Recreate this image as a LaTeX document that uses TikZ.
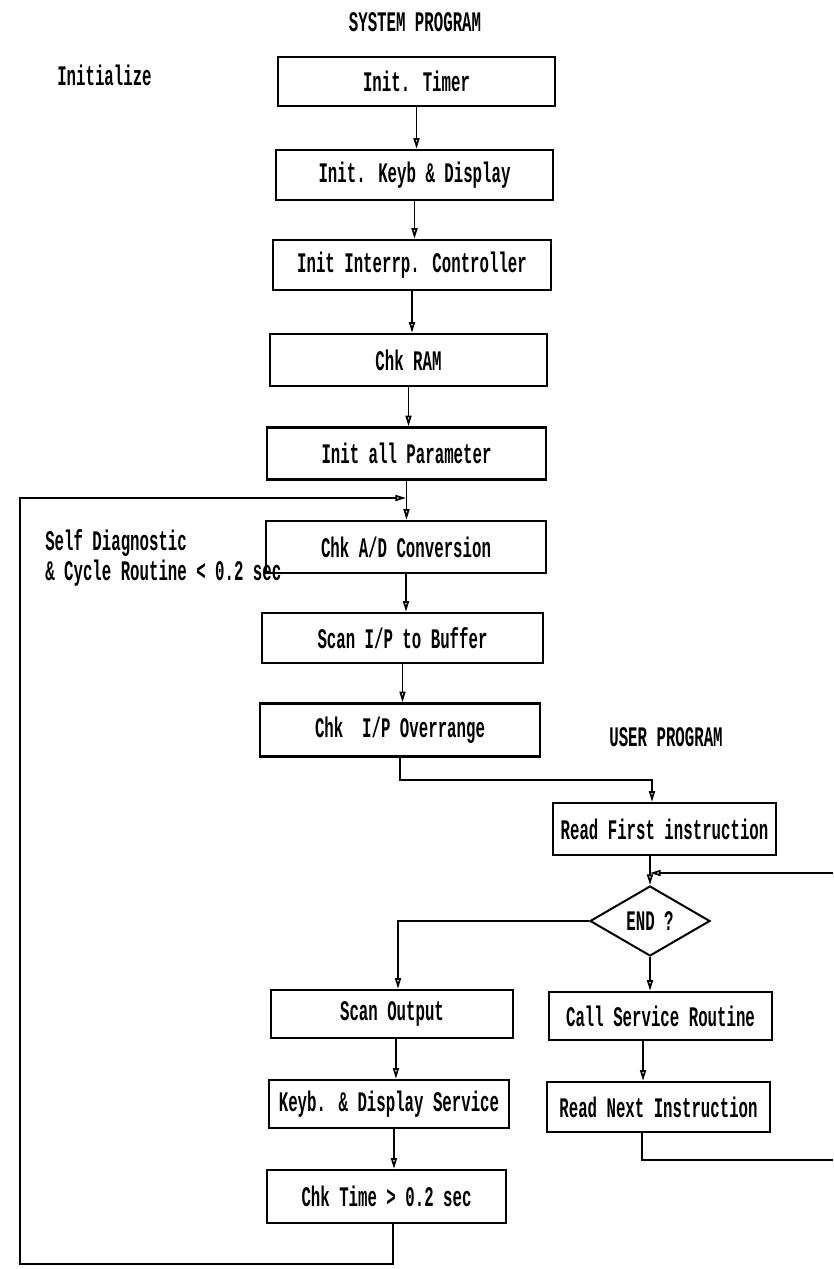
\documentclass[tikz,border=0pt]{standalone}
\usepackage{fontspec}
\usepackage{graphicx}
\newfontfamily\dotfont{Liberation Mono}
\usetikzlibrary{arrows.meta,shapes.geometric}
% tall, narrow print-out lettering
\newcommand{\tallprint}[1]{\scalebox{1}[1.8]{#1}}

\begin{document}
\begin{tikzpicture}[x=0.75pt,y=-0.75pt,
  every node/.style={font=\dotfont\bfseries\fontsize{11.8}{14}\selectfont, inner sep=0pt},
  proc/.style 2 args={draw, line width=1.8pt, minimum width=#1*0.75pt, minimum height=#2*0.75pt},
  decision/.style={draw, diamond, line width=1.5pt, minimum width=120*0.75pt, minimum height=70*0.75pt},
  label/.style={anchor=west},
  flow/.style={line width=1.3pt},
  arr/.style={flow, -{Triangle[open, length=8pt, width=4.5pt]}}]

\useasboundingbox[fill=white] (0,0) rectangle (833,1269);

% headings and side notes
\node (sysprog) at (415,22) {\tallprint{SYSTEM PROGRAM}};
\node[label] (init) at (57,75) {\tallprint{Initialize}};
\node[label] (selfdiag) at (45,543) {\tallprint{Self Diagnostic}};
\node[label] (cycle) at (45,573) {\tallprint{\& Cycle Routine < 0.2 sec}};
\node (userprog) at (666,737) {\tallprint{USER PROGRAM}};

% system program column
\node[proc={277}{49}] (timer)  at (416.5,81.5) {\tallprint{Init. Timer}};
\node[proc={277}{50}] (keyb)   at (414.5,175)  {\tallprint{Init. Keyb \& Display}};
\node[proc={278}{50}] (intr)   at (412,265)    {\tallprint{Init Interrp. Controller}};
\node[proc={277}{52}] (ram)    at (408.5,360)  {\tallprint{Chk RAM}};
\node[proc={279}{52}] (param)  at (406.5,453.5){\tallprint{Init all Parameter}};
\node[proc={280}{52}] (ad)     at (406,547)    {\tallprint{Chk A/D Conversion}};
\node[proc={281}{50}] (scan)   at (402.5,638)  {\tallprint{Scan I/P to Buffer}};
\node[proc={280}{53}] (over)   at (400,730)    {\tallprint{Chk\ \ I/P Overrange}};

% user program column
\node[proc={223}{52}] (first)  at (664.5,829)  {\tallprint{Read First instruction}};
\node[decision]       (endq)   at (650,921)    {\tallprint{END ?}};
\node[proc={223}{48}] (call)   at (660.5,1016) {\tallprint{Call Service Routine}};
\node[proc={223}{50}] (next)   at (658.5,1107) {\tallprint{Read Next Instruction}};

% output / timing column
\node[proc={242}{48}] (scanout) at (392,1014)   {\tallprint{Scan Output}};
\node[proc={240}{48}] (keybsvc) at (389,1104)   {\tallprint{Keyb. \& Display Service}};
\node[proc={239}{53}] (time)    at (386.5,1196.5) {\tallprint{Chk Time > 0.2 sec}};

% loop and branch points
\coordinate (adin)  at (406,498);
\coordinate (loopt) at (20,498);
\coordinate (loopb) at (20,1264);
\coordinate (endin) at (650,873);
\coordinate (retr)  at (833,873);
\coordinate (outr)  at (833,1160);

% initialisation sequence
\draw[arr] (timer.south) -- (keyb.north -| timer.south);
\draw[arr] (keyb.south)  -- (intr.north -| keyb.south);
\draw[arr] (intr.south)  -- (ram.north -| intr.south);
\draw[arr] (ram.south)   -- (param.north -| ram.south);
\draw[arr] (param.south) -- (ad.north -| param.south);
\draw[arr] (ad.south)    -- (scan.north -| ad.south);
\draw[arr] (scan.south)  -- (over.north -| scan.south);

% into the user program
\draw[arr] (over.south) |- (652,780) -- ([xshift=-9.4pt]first.north);
\draw[arr] ([xshift=-10.9pt]first.south) -- (endq.north);
\draw[arr] (retr) -- (endin);

% END ? branches
\draw[arr] (endq.west) -| ([xshift=4.5pt]scanout.north);
\draw[arr] (endq.south) -- (call.north -| endq.south);
\draw[arr] ([xshift=-13.1pt]call.south) -- ([xshift=-11.6pt]next.north);
\draw[flow] ([xshift=-12.4pt]next.south) |- (outr);

% output and timing
\draw[arr] ([xshift=3pt]scanout.south) -- ([xshift=5.2pt]keybsvc.north);
\draw[arr] ([xshift=3.7pt]keybsvc.south) -- ([xshift=5.6pt]time.north);

% cycle loop back to the A/D check
\draw[arr] ([xshift=4.9pt]time.south) |- (loopb) -- (loopt) -- (adin);
\end{tikzpicture}
\end{document}
